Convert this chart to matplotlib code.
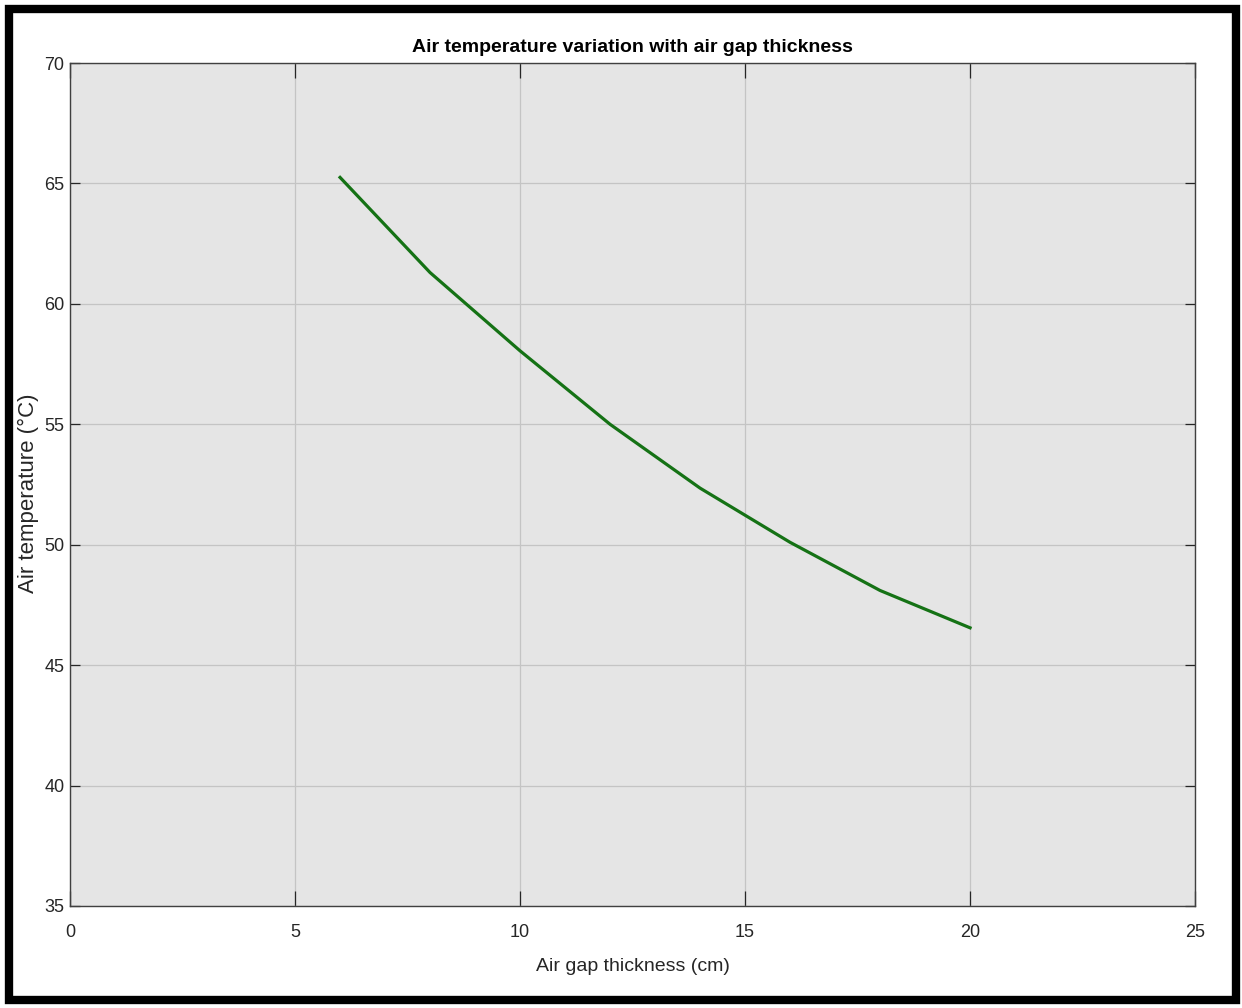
import matplotlib.pyplot as plt
from matplotlib.patches import Rectangle

# 数据: 空气间隙厚度 (cm) 与空气温度 (°C)
gap = [6, 8, 10, 12, 14, 16, 18, 20]
temp = [65.25, 61.3, 58.05, 55.0, 52.35, 50.1, 48.1, 46.55]
xticks = [0, 5, 10, 15, 20, 25]
yticks = [35, 40, 45, 50, 55, 60, 65, 70]

plt.rcParams['font.family'] = ['Liberation Sans', 'DejaVu Sans']

fig = plt.figure(figsize=(12.42, 10.08), dpi=100)
ax = fig.add_axes([0.0564, 0.1012, 0.9058, 0.8363])
ax.set_facecolor('#e5e5e5')

ax.plot(gap, temp, color='#157215', linewidth=2.3)

ax.set_xlim(0, 25)
ax.set_ylim(35, 70)
ax.set_xticks(xticks)
ax.set_yticks(yticks)
ax.grid(True, color='#c4c4c4', linewidth=0.9)
ax.set_axisbelow(True)
ax.tick_params(direction='in', width=0.9, color='#262626',
               top=True, right=True, labelsize=13, labelcolor='#262626')
ax.tick_params(axis='x', length=11, pad=13)
ax.tick_params(axis='y', length=7, pad=4)
for s in ax.spines.values():
    s.set_color('#404040')
    s.set_linewidth(1.0)

ax.set_title('Air temperature variation with air gap thickness',
             fontsize=14, fontweight='bold', pad=8)
ax.set_xlabel('Air gap thickness (cm)', fontsize=14, color='#262626',
              labelpad=12)
ax.set_ylabel('Air temperature (\u00b0C)', fontsize=16, color='#262626')
ax.yaxis.set_label_coords(-0.028, 0.49)

# 外围黑框
fig.patches.append(Rectangle((9 / 1242, 8 / 1008), 1227 / 1242, 991 / 1008,
                             transform=fig.transFigure, fill=False,
                             edgecolor='black', linewidth=6))

plt.savefig('out.png', dpi=100)
